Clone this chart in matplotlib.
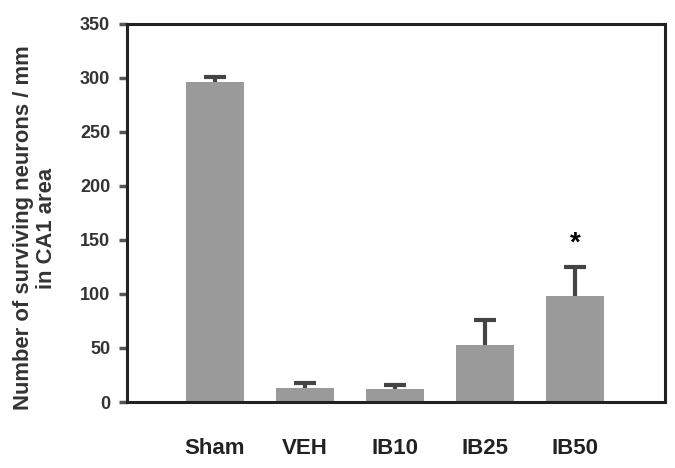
import matplotlib
matplotlib.use("Agg")
import matplotlib.pyplot as plt

categories = ["Sham", "VEH", "IB10", "IB25", "IB50"]
means = [296, 13, 12, 53, 98]
errors = [5, 5, 4, 23, 27]
yticks = [0, 50, 100, 150, 200, 250, 300, 350]

plt.rcParams['font.family'] = ['Liberation Sans', 'DejaVu Sans']
fig = plt.figure(figsize=(6.75, 4.68), dpi=100)
ax = fig.add_axes([0.188, 0.141, 0.797, 0.808])
x = list(range(len(categories)))
ax.bar(x, means, width=0.65, color='#9a9a9a', zorder=2)
eb = ax.errorbar(x, means, yerr=[[0]*len(means), errors], fmt='none', ecolor='#444444',
                 elinewidth=3, capsize=8, capthick=3, zorder=1)
eb[1][0].set_visible(False)
ax.text(4, means[4] + errors[4] + 10, '*', ha='center', va='bottom', fontsize=20, fontweight='bold')
ax.set_xlim(-0.98, 5.0)
ax.set_ylim(0, 350)
ax.set_yticks(yticks)
ax.set_yticklabels([str(t) for t in yticks], fontweight='bold', fontsize=13, color='#333333')
ax.set_xticks(x)
ax.set_xticklabels(categories, fontweight='bold', fontsize=16, color='#222222')
ax.tick_params(axis='x', length=0, pad=26)
ax.tick_params(axis='y', direction='out', length=6, width=2.5, color='#555555', pad=6)
for s in ax.spines.values():
    s.set_linewidth(2.2)
    s.set_color('#222222')
ax.set_ylabel('Number of surviving neurons / mm\nin CA1 area', fontweight='bold', fontsize=15.8,
              color='#333333', linespacing=1.1)
ax.yaxis.set_label_coords(-0.13, 0.46)
fig.savefig('out.png', dpi=100)
